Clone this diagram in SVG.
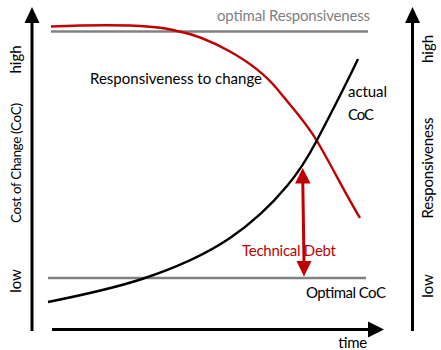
<svg xmlns="http://www.w3.org/2000/svg" width="441" height="350" viewBox="0 0 441 350">
<style>
text{font-family:Lato,"Open Sans","Liberation Sans",sans-serif;font-size:15px;fill:#000}
.small{font-size:13.5px}
.gray{fill:#7f7f7f}
.red{fill:#c00000}
.axis{stroke:#000;stroke-width:3;fill:none}
.ref{stroke:#808080;stroke-width:2.7;fill:none}
.curve{stroke-width:2.4;fill:none}
</style>
<rect width="441" height="350" fill="#fff"/>
<g id="axes">
  <line class="axis" x1="32" y1="331" x2="32" y2="20"/>
  <polygon points="32,7 24.5,23 39.5,23" fill="#000"/>
  <line class="axis" x1="52" y1="329.5" x2="370" y2="329.5"/>
  <polygon points="384,329.5 368,321.5 368,337.5" fill="#000"/>
  <line class="axis" x1="412.5" y1="331" x2="412.5" y2="20"/>
  <polygon points="412.5,7 405,23 420,23" fill="#000"/>
</g>
<g id="left-labels">
  <text transform="translate(21,59.5) rotate(-90)" text-anchor="middle">high</text>
  <text class="small" transform="translate(21,163) rotate(-90)" text-anchor="middle" textLength="120">Cost of Change (CoC)</text>
  <text transform="translate(21,281) rotate(-90)" text-anchor="middle">low</text>
</g>
<g id="right-labels">
  <text transform="translate(433,49) rotate(-90)" text-anchor="middle">high</text>
  <text transform="translate(433,168) rotate(-90)" text-anchor="middle" textLength="101">Responsiveness</text>
  <text transform="translate(433,286) rotate(-90)" text-anchor="middle">low</text>
</g>
<g id="optimal-responsiveness">
  <line class="ref" x1="51" y1="31.5" x2="368" y2="31.5"/>
  <text class="gray" x="217" y="21" textLength="153">optimal Responsiveness</text>
</g>
<g id="optimal-coc">
  <line class="ref" x1="48" y1="278" x2="366" y2="278"/>
  <text x="306" y="298" textLength="80">Optimal CoC</text>
</g>
<g id="responsiveness-curve">
  <path class="curve" stroke="#c00000" d="M51,26.5 C100,24.5 152,23.5 177,31 C205,36 253,59 278,90 C292,107.5 305,120.6 317,141 C330,163 347,196.5 360,218"/>
  <text x="90" y="84" textLength="172">Responsiveness to change</text>
</g>
<g id="actual-coc">
  <path class="curve" stroke="#000" d="M48,302 C79.3,295.7 110.7,289.3 142,279 C171.3,269.3 200.7,257.9 230,238 C249,225.1 268,208.8 287,186 C296.7,174.4 306.3,160.4 316,142 C330,115.4 344,88.4 358,59"/>
  <text x="348" y="97" textLength="39">actual</text>
  <text x="348" y="120" textLength="26">CoC</text>
</g>
<g id="technical-debt">
  <line x1="302.8" y1="182" x2="304" y2="262" stroke="#c00000" stroke-width="3"/>
  <polygon points="302.7,168 295,183.5 310.5,183.5" fill="#c00000"/>
  <polygon points="304,276.5 296.5,261 311.5,261" fill="#c00000"/>
  <text class="red" x="242" y="256" textLength="94">Technical Debt</text>
</g>
<g id="time-label">
  <text x="338" y="348" textLength="29">time</text>
</g>
</svg>
